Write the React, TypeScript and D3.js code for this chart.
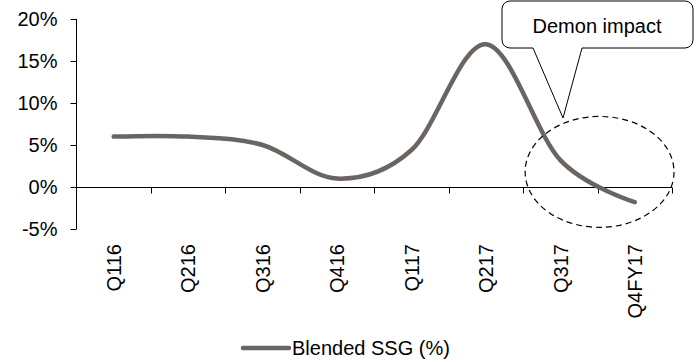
import { useEffect, useRef } from "react";
import * as d3 from "d3";

const categories = ["Q116", "Q216", "Q316", "Q416", "Q117", "Q217", "Q317", "Q4FY17"];
const ssgValues = [6.0, 6.0, 5.0, 1.0, 4.4, 17.0, 3.2, -1.8];
const yTicks = [-5, 0, 5, 10, 15, 20];
const seriesName = "Blended SSG (%)";
const calloutText = "Demon impact";

const W = 700;
const H = 362;
const FONT = "'Liberation Sans', Arial, sans-serif";
const LINE_COLOR = "#6b6562";

export default function App() {
  const svgRef = useRef<SVGSVGElement | null>(null);

  useEffect(() => {
    const svg = d3.select(svgRef.current);
    svg.selectAll("*").remove();

    const x = d3.scaleBand<string>().domain(categories).range([76.5, 672]);
    const y = d3.scaleLinear().domain([-5, 20]).range([229, 19]);
    const cx = (c: string) => (x(c) ?? 0) + x.bandwidth() / 2;

    // y axis
    const yAxis = svg.append("g").attr("transform", "translate(76.5,0)");
    yAxis.append("line").attr("y1", y(20)).attr("y2", y(-5)).attr("stroke", "#000");
    yAxis
      .selectAll("line.tick")
      .data(yTicks)
      .join("line")
      .attr("class", "tick")
      .attr("x1", -6)
      .attr("x2", 0)
      .attr("y1", (d) => Math.round(y(d)) + 0.5)
      .attr("y2", (d) => Math.round(y(d)) + 0.5)
      .attr("stroke", "#000");
    yAxis
      .selectAll("text")
      .data(yTicks)
      .join("text")
      .attr("x", -19)
      .attr("y", (d) => y(d))
      .attr("dy", "0.36em")
      .attr("text-anchor", "end")
      .attr("font-family", FONT)
      .attr("font-size", 20)
      .text((d) => `${d}%`);

    // x axis at zero
    const y0 = Math.round(y(0)) + 0.5;
    const xAxis = svg.append("g");
    xAxis.append("line").attr("x1", 76.5).attr("x2", 672).attr("y1", y0).attr("y2", y0).attr("stroke", "#000");
    const bounds = categories.map((c) => x(c) ?? 0).concat([x.range()[1]]);
    xAxis
      .selectAll("line.tick")
      .data(bounds.slice(1))
      .join("line")
      .attr("class", "tick")
      .attr("x1", (d) => Math.round(d) + 0.5)
      .attr("x2", (d) => Math.round(d) + 0.5)
      .attr("y1", y0)
      .attr("y2", y0 + 6)
      .attr("stroke", "#000");
    xAxis
      .selectAll("text")
      .data(categories)
      .join("text")
      .attr("transform", (d) => `translate(${cx(d)},244) rotate(-90)`)
      .attr("dy", "0.36em")
      .attr("text-anchor", "end")
      .attr("font-family", FONT)
      .attr("font-size", 20)
      .text((d) => d);

    // series
    const line = d3
      .line<number>()
      .x((_, i) => cx(categories[i]))
      .y((d) => y(d))
      .curve(d3.curveCardinal.tension(0));
    svg
      .append("path")
      .datum(ssgValues)
      .attr("fill", "none")
      .attr("stroke", LINE_COLOR)
      .attr("stroke-width", 4.5)
      .attr("stroke-linecap", "round")
      .attr("d", line);

    // dashed ellipse around last quarters
    const ex = x("Q4FY17") ?? 0;
    svg
      .append("ellipse")
      .attr("cx", ex + 2)
      .attr("cy", y(1.8))
      .attr("rx", x.bandwidth())
      .attr("ry", y(0) - y(6.6))
      .attr("fill", "none")
      .attr("stroke", "#000")
      .attr("stroke-width", 1.2)
      .attr("stroke-dasharray", "6,4");

    // callout
    const bx0 = 502, bx1 = 693, by0 = 1, by1 = 48, r = 8;
    const tipX = 563, tipY = 118;
    const p = d3.path();
    p.moveTo(bx0 + r, by0);
    p.lineTo(bx1 - r, by0);
    p.arcTo(bx1, by0, bx1, by0 + r, r);
    p.lineTo(bx1, by1 - r);
    p.arcTo(bx1, by1, bx1 - r, by1, r);
    p.lineTo(582, by1);
    p.lineTo(tipX, tipY);
    p.lineTo(533, by1);
    p.lineTo(bx0 + r, by1);
    p.arcTo(bx0, by1, bx0, by1 - r, r);
    p.lineTo(bx0, by0 + r);
    p.arcTo(bx0, by0, bx0 + r, by0, r);
    p.closePath();
    svg
      .append("path")
      .attr("d", p.toString())
      .attr("fill", "#fff")
      .attr("stroke", "#000")
      .attr("stroke-width", 1);
    svg
      .append("text")
      .attr("x", 597)
      .attr("y", 33)
      .attr("text-anchor", "middle")
      .attr("font-family", FONT)
      .attr("font-size", 20)
      .text(calloutText);

    // legend
    const lg = svg.append("g").attr("transform", "translate(243,348)");
    lg.append("line")
      .attr("x1", 0)
      .attr("x2", 46)
      .attr("stroke", LINE_COLOR)
      .attr("stroke-width", 4.5)
      .attr("stroke-linecap", "round");
    lg.append("text")
      .attr("x", 49)
      .attr("dy", "0.36em")
      .attr("font-family", FONT)
      .attr("font-size", 20)
      .text(seriesName);
  }, []);

  return (
    <svg
      ref={svgRef}
      width={W}
      height={H}
      style={{ position: "absolute", left: 0, top: 0, background: "#fff" }}
    />
  );
}
